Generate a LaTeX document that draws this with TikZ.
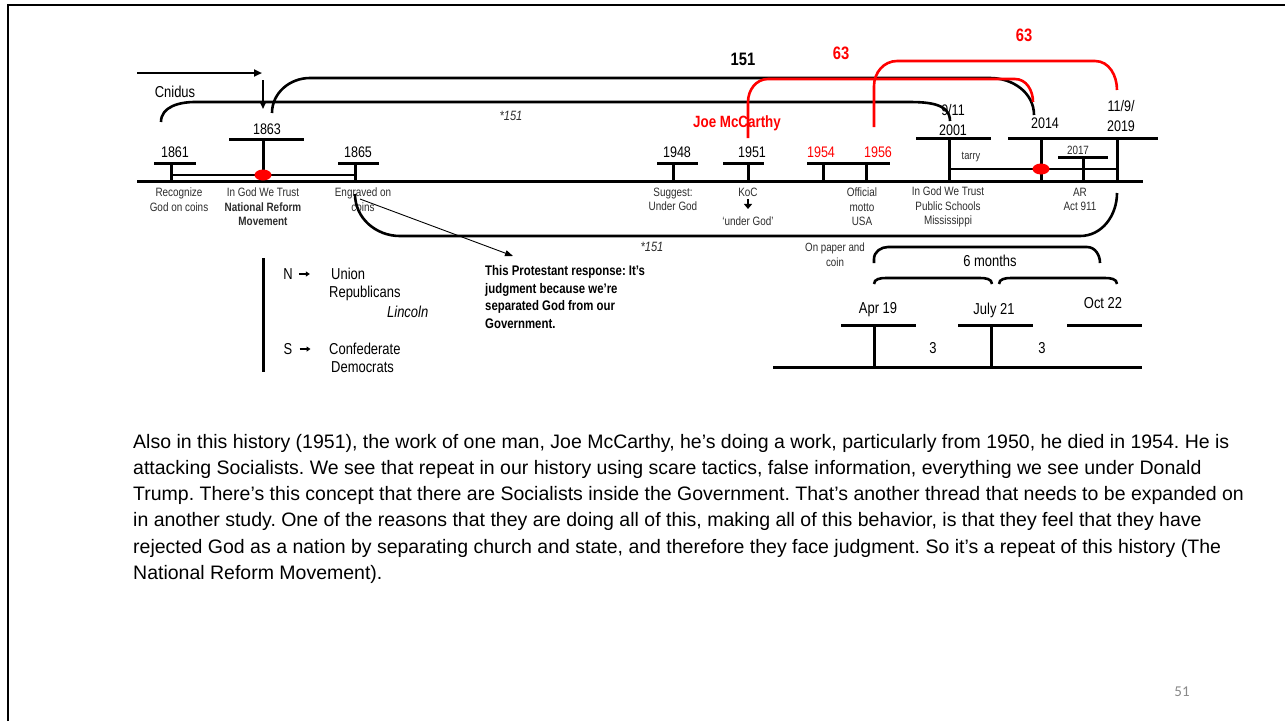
\documentclass[tikz,border=0pt]{standalone}
\usepackage{fontspec}
\setmainfont{Liberation Sans}[FakeStretch=0.82]
\newfontfamily\parafont{Liberation Sans}
\newfontfamily\pagefont{Carlito}
\usetikzlibrary{arrows.meta}
\definecolor{redmark}{RGB}{255,0,0}
\definecolor{labelgray}{RGB}{45,45,45}
\definecolor{pagegray}{RGB}{137,137,137}
\frenchspacing
\begin{document}
\begin{tikzpicture}[x=1pt,y=-1pt,
  tl/.style={line width=3pt},
  thinline/.style={line width=2.4pt},
  br/.style={line width=2.6pt},
  rbr/.style={line width=2.6pt, draw=redmark},
  yr/.style={font=\fontsize{15.3}{17}\selectfont, inner sep=0},
  ryr/.style={yr, text=redmark},
  sm/.style={font=\fontsize{12.1}{14.5}\selectfont, align=center, inner sep=0, text=labelgray},
  mid/.style={font=\fontsize{15.8}{18}\selectfont, inner sep=0},
  big/.style={font=\bfseries\fontsize{18}{20}\selectfont, inner sep=0},
  para/.style={font=\parafont\fontsize{19.5}{26}\selectfont, inner sep=0, anchor=base west},
  tip/.style={-{Triangle[length=8pt,width=7pt]}}
]
\useasboundingbox (0,0) rectangle (1285,721);
% slide frame (top and left)
\draw[line width=2.5pt] (8,721) -- (8,5) -- (1285,5);

% ---------- main timeline ----------
\coordinate (tlA) at (137,181);
\coordinate (tlB) at (1143,181);
\draw[tl] (tlA) -- (tlB);

% 1861 - 1865 inner line
\coordinate (s61) at (171,175);
\coordinate (s65) at (355,175);
\draw[thinline] (s61) -- (s65);

% ticks
\draw[tl] (154,163) -- (196,163); \draw[tl] (171,163) -- (171,181);
\draw[tl] (229,139) -- (304,139); \draw[tl] (263,139) -- (263,181);
\draw[tl] (338,163) -- (379,163); \draw[tl] (355,163) -- (355,181);
\draw[tl] (657,163) -- (698,163); \draw[tl] (673,163) -- (673,181);
\draw[tl] (723,163) -- (764,163); \draw[tl] (748,163) -- (748,181);
\draw[tl] (807,163) -- (890,163); \draw[tl] (823,163) -- (823,181); \draw[tl] (866,163) -- (866,181);
\draw[tl] (916,138) -- (991,138); \draw[tl] (949,138) -- (949,181);
\draw[tl] (1008,138) -- (1158,138); \draw[tl] (1041,138) -- (1041,181); \draw[tl] (1117,138) -- (1117,181);
\draw[tl] (1058,157) -- (1108,157); \draw[tl] (1083,157) -- (1083,181);
\coordinate (ty1) at (949,169);
\coordinate (ty2) at (1117,169);
\draw[thinline] (ty1) -- (ty2);

% red dots
\fill[redmark] (263,175) ellipse [x radius=8.5pt, y radius=5.5pt];
\fill[redmark] (1041,169) ellipse [x radius=8.5pt, y radius=5.5pt];

% years
\node[yr] (y1861) at (175,152) {1861};
\node[yr] (y1863) at (267,129) {1863};
\node[yr] (y1865) at (358,152) {1865};
\node[yr] (y1948) at (677,152) {1948};
\node[yr] (y1951) at (752,152) {1951};
\node[ryr] (y1954) at (821,152) {1954};
\node[ryr] (y1956) at (878,152) {1956};
\node[yr] (y911) at (953,110) {9/11};
\node[yr] (y2001) at (953,130) {2001};
\node[yr] (y2014) at (1045,123) {2014};
\node[yr] (y119) at (1121,106) {11/9/};
\node[yr] (y2019) at (1121,126) {2019};
\node[font=\fontsize{12}{13}\selectfont, inner sep=0, text=labelgray] (y2017) at (1078,150) {2017};
\node[font=\fontsize{11.3}{13}\selectfont, inner sep=0, text=labelgray] (tarry) at (971,157) {tarry};

% labels under the line
\node[sm] (l1861) at (179,199.5) {Recognize\\God on coins};
\node[sm] (l1863) at (263,207) {In God We Trust\\\textbf{National Reform}\\\textbf{Movement}};
\node[sm] (l1865) at (363,199.5) {Engraved on\\coins};
\node[sm] (l1948) at (673,199.5) {Suggest:\\Under God};
\node[sm] (l1951a) at (748,192) {KoC};
\node[sm] (l1951b) at (748,221) {`under God'};
\draw[line width=2pt, -{Triangle[length=5pt,width=8pt]}] (l1951a.south) ++(0,2.5) coordinate (koc1) -- ++(0,10) coordinate (koc2);
\node[sm] (l1956) at (862,207) {Official\\motto\\USA};
\node[sm] (l2001) at (948,207) {In God We Trust\\Public Schools\\Mississippi};
\node[sm] (l2017) at (1080,199.5) {AR\\Act 911};

% top arrows and Cnidus
\coordinate (arA) at (137,73);
\coordinate (arB) at (262,73);
\draw[line width=2pt, tip] (arA) -- (arB);
\coordinate (arC) at (263,80);
\coordinate (arD) at (263,109);
\draw[line width=2pt, tip] (arC) -- (arD);
\node[mid] (cnidus) at (175,92) {Cnidus};

% black brackets
\coordinate (b1s) at (161,122);
\coordinate (b1e) at (950,121);
\draw[br] (b1s) to[out=90,in=180] (195,102) -- (905,102) to[out=0,in=90] (b1e);
\node[font=\itshape\fontsize{13.5}{15}\selectfont, inner sep=0, text=labelgray] (s151a) at (511,116) {*151};

\coordinate (b2s) at (272,113);
\coordinate (b2e) at (1034,115);
\draw[br] (b2s) to[out=90,in=180] (310,78) -- (990,78) to[out=0,in=90] (b2e);
\node[big] (n151) at (743,59) {151};

% red brackets
\coordinate (r1s) at (748,138);
\coordinate (r1e) at (1033,102);
\draw[rbr] (r1s) -- (748,102) to[out=90,in=180] (768,79) -- (1015,79) to[out=0,in=90] (r1e);
\node[big, text=redmark] (n63a) at (841,53) {63};
\node[font=\bfseries\fontsize{16.3}{18}\selectfont, text=redmark, inner sep=0] (joe) at (737,123) {Joe McCarthy};

\coordinate (r2s) at (874,127);
\coordinate (r2e) at (1117,90);
\draw[rbr] (r2s) -- (874,86) to[out=90,in=180] (897,61) -- (1095,61) to[out=0,in=90] (r2e);
\node[big, text=redmark] (n63b) at (1024,35) {63};

% lower bracket
\coordinate (b3s) at (355,194);
\coordinate (b3e) at (1117,193);
\draw[br] (b3s) to[out=-90,in=180] (400,236) -- (1080,236) to[out=0,in=-90] (b3e);
\node[font=\itshape\fontsize{13.5}{15}\selectfont, inner sep=0, text=labelgray] (s151b) at (652,247) {*151};

% Protestant response
\node[font=\bfseries\fontsize{13.9}{17.8}\selectfont, align=left, inner sep=0, anchor=north west] (prot) at (485,265) {This Protestant response: It’s\\judgment because we’re\\separated God from our\\Government.};
\coordinate (pr1) at (360,199);
\coordinate (pr2) at (513,256);
\draw[line width=0.9pt, -{Triangle[length=8pt,width=6pt]}] (pr1) -- (pr2);

% N / S block
\coordinate (ns1) at (263,258);
\coordinate (ns2) at (263,372);
\draw[tl] (ns1) -- (ns2);
\node[mid] (nN) at (288,274) {N};
\draw[line width=1.4pt, -{Triangle[length=4pt,width=5pt]}] (nN.east) ++(6,0) coordinate (nar1) -- ++(11,0) coordinate (nar2);
\node[mid, anchor=west] (union) at (331,274) {Union};
\node[mid, anchor=west] (rep) at (329,293) {Republicans};
\node[mid, anchor=west, font=\itshape\fontsize{15.8}{18}\selectfont] (linc) at (387,312) {Lincoln};
\node[mid] (nS) at (288,349) {S};
\draw[line width=1.4pt, -{Triangle[length=4pt,width=5pt]}] (nS.east) ++(7,0) coordinate (sar1) -- ++(11,0) coordinate (sar2);
\node[mid, anchor=west] (conf) at (329,349) {Confederate};
\node[mid, anchor=west] (dem) at (331,367) {Democrats};

% On paper and coin, 6 months
\node[font=\fontsize{11.9}{14.5}\selectfont, align=center, inner sep=0, text=labelgray] (paper) at (835,254.5) {On paper and\\coin};
\coordinate (m6s) at (874,263);
\coordinate (m6e) at (1100,263);
\draw[br] (m6s) -- (874,259) to[out=90,in=180] (888,247) -- (1087,247) to[out=0,in=90] (m6e);
\node[mid] (six) at (990,261) {6 months};
\coordinate (m3as) at (874,284);
\coordinate (m3ae) at (992,284);
\draw[br] (m3as) to[out=90,in=180] (886,278) -- (980,278) to[out=0,in=90] (m3ae);
\coordinate (m3bs) at (999,284);
\coordinate (m3be) at (1117,284);
\draw[br] (m3bs) to[out=90,in=180] (1011,278) -- (1105,278) to[out=0,in=90] (m3be);

\node[mid] (apr) at (878,310) {Apr 19};
\node[mid] (jul) at (994,310) {July 21};
\node[mid] (oct) at (1103,303) {Oct 22};
\draw[tl] (841,325) -- (916,325);
\draw[tl] (958,325) -- (1033,325);
\draw[tl] (1067,325) -- (1142,325);
\draw[tl] (874,325) -- (874,367);
\draw[tl] (991,325) -- (991,367);
\coordinate (bl1) at (773,367);
\coordinate (bl2) at (1142,367);
\draw[tl] (bl1) -- (bl2);
\node[mid] (three1) at (933,348) {3};
\node[mid] (three2) at (1042,348) {3};

% paragraph
\node[para] (p1) at (133,448) {Also in this history (1951), the work of one man, Joe McCarthy, he’s doing a work, particularly from 1950, he died in 1954. He is};
\node[para] (p2) at (133,474) {attacking Socialists. We see that repeat in our history using scare tactics, false information, everything we see under Donald};
\node[para] (p3) at (133,500) {Trump. There’s this concept that there are Socialists inside the Government. That’s another thread that needs to be expanded on};
\node[para] (p4) at (133,526) {in another study. One of the reasons that they are doing all of this, making all of this behavior, is that they feel that they have};
\node[para] (p5) at (133,553) {rejected God as a nation by separating church and state, and therefore they face judgment. So it’s a repeat of this history (The};
\node[para] (p6) at (133,579) {National Reform Movement).};

\node[font=\pagefont\fontsize{15}{17}\selectfont, text=pagegray, inner sep=0] (pg) at (1182,692) {51};
\end{tikzpicture}
\end{document}
